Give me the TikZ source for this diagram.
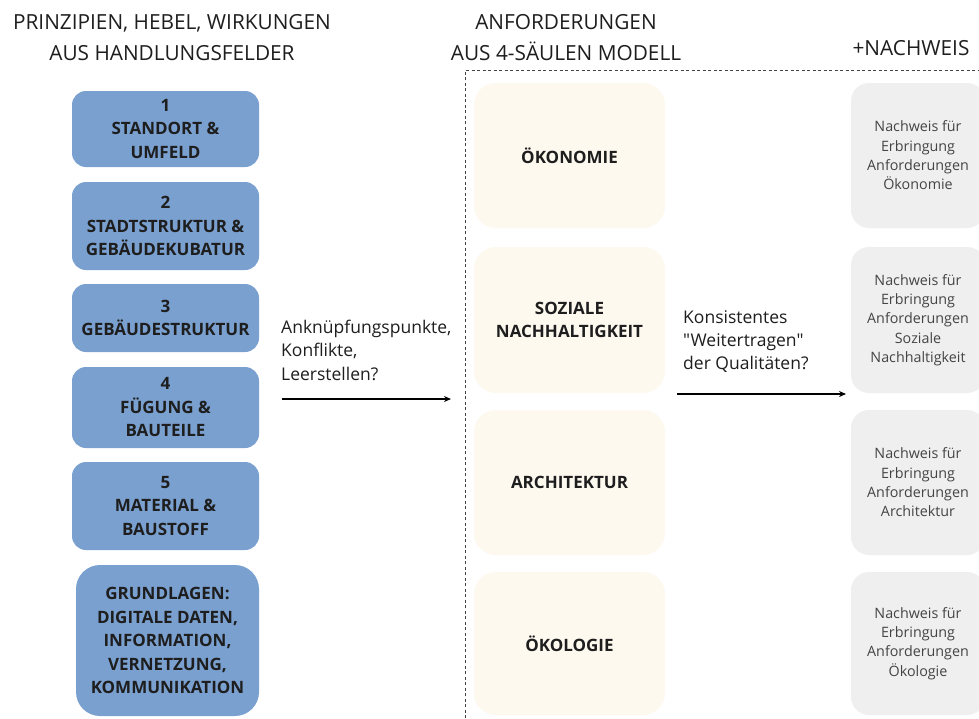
\documentclass[tikz,border=0pt]{standalone}
\usepackage{fontspec}
\setmainfont{Open Sans}[Ligatures=TeXOff]
\usetikzlibrary{arrows.meta}
\definecolor{fieldblue}{RGB}{122,160,208}
\definecolor{pillarcream}{RGB}{254,249,239}
\definecolor{proofgray}{RGB}{239,239,239}
\definecolor{ink}{RGB}{30,30,30}
\definecolor{softink}{RGB}{68,68,68}
\begin{document}
\begin{tikzpicture}[x=1pt,y=-1pt,
  boxfont/.style={font=\bfseries\fontsize{17}{23.5}\selectfont,text=ink,align=center},
  fieldbox/.style={boxfont,fill=fieldblue,rounded corners=14pt,minimum width=187pt,inner sep=0pt},
  pillarbox/.style={boxfont,fill=pillarcream,rounded corners=22pt,minimum width=191pt,inner sep=0pt},
  proofbox/.style={font=\fontsize{14.3}{19.3}\selectfont,text=softink,align=center,
                   fill=proofgray,rounded corners=18pt,minimum width=134pt,inner sep=0pt},
  heading/.style={font=\fontsize{20.8}{31}\selectfont,text=ink,align=center},
  note/.style={font=\fontsize{17.5}{23.3}\selectfont,text=ink,align=left,anchor=north west,inner sep=0pt},
  flow/.style={line width=1.3pt,-{Stealth[length=7pt,width=6pt]},draw=black}]
\useasboundingbox (0,0) rectangle (979,718);
\fill[white] (0,0) rectangle (979,718);

% column headings
\node[heading] (h1) at (172,38) {PRINZIPIEN, HEBEL, WIRKUNGEN\\AUS HANDLUNGSFELDER};
\node[heading] (h2) at (566,38) {ANFORDERUNGEN\\AUS 4-SÄULEN MODELL};
\node[heading] (h3) at (911,48) {+NACHWEIS};

% dashed frame around the requirement and proof columns
\draw[line width=0.7pt,draw=softink,dash pattern=on 3pt off 2.5pt] (465,718) -- (465,70) -- (979,70);

% fields of action
\node[fieldbox,minimum height=76pt] (f1) at (165.5,129) {1\\STANDORT \&\\UMFELD};
\node[fieldbox,minimum height=88pt] (f2) at (165.5,226) {2\\STADTSTRUKTUR \&\\GEBÄUDEKUBATUR};
\node[fieldbox,minimum height=68pt] (f3) at (165.5,318) {3\\GEBÄUDESTRUKTUR};
\node[fieldbox,minimum height=81pt] (f4) at (165.5,407.5) {4\\FÜGUNG \&\\BAUTEILE};
\node[fieldbox,minimum height=88pt] (f5) at (165.5,506) {5\\MATERIAL \&\\BAUSTOFF};
\node[fieldbox,minimum width=183pt,minimum height=151pt,rounded corners=24pt] (f6) at (167.5,640.5)
  {GRUNDLAGEN:\\DIGITALE DATEN,\\INFORMATION,\\VERNETZUNG,\\KOMMUNIKATION};

% four pillars
\node[pillarbox,minimum height=145pt] (p1) at (569.5,155.5) {ÖKONOMIE};
\node[pillarbox,minimum height=146pt] (p2) at (569.5,320) {SOZIALE\\NACHHALTIGKEIT};
\node[pillarbox,minimum height=145pt] (p3) at (569.5,482.5) {ARCHITEKTUR};
\node[pillarbox,minimum height=143pt] (p4) at (569.5,643.5) {ÖKOLOGIE};

% proofs
\node[proofbox,minimum height=145pt] (n1) at (918,155.5) {Nachweis für\\Erbringung\\Anforderungen\\Ökonomie};
\node[proofbox,minimum height=146pt] (n2) at (918,320) {Nachweis für\\Erbringung\\Anforderungen\\Soziale\\Nachhaltigkeit};
\node[proofbox,minimum height=145pt] (n3) at (918,482.5) {Nachweis für\\Erbringung\\Anforderungen\\Architektur};
\node[proofbox,minimum height=143pt] (n4) at (918,643.5) {Nachweis für\\Erbringung\\Anforderungen\\Ökologie};

% connectors with their questions
\coordinate (a1s) at (282,399);
\coordinate (a1e) at (451,399);
\draw[flow] (a1s) -- (a1e);
\node[note] (q1) at (281,320) {Anknüpfungspunkte,\\Konflikte,\\Leerstellen?};
\coordinate (a2s) at (677,394);
\coordinate (a2e) at (846,394);
\draw[flow] (a2s) -- (a2e);
\node[note] (q2) at (683,310) {Konsistentes\\"Weitertragen"\\der Qualitäten?};
\end{tikzpicture}
\end{document}
